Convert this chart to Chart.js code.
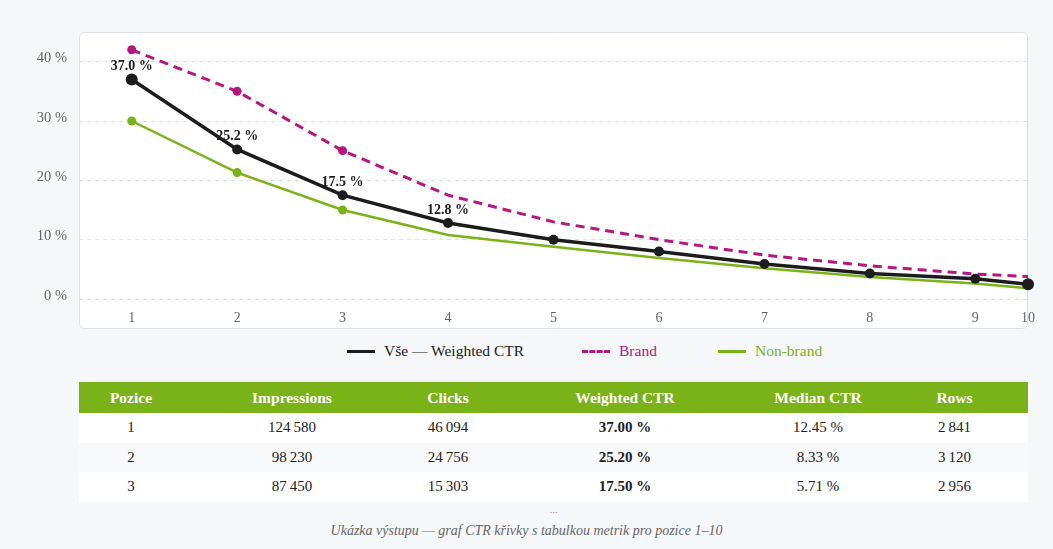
<!DOCTYPE html>
<html lang="cs">
<head>
<meta charset="utf-8">
<title>CTR křivka</title>
<script src="https://cdn.jsdelivr.net/npm/chart.js@4.4.1/dist/chart.umd.min.js"></script>
<style>
  body { margin: 0; background: #f6f7f9; font-family: Georgia, "Liberation Serif", "DejaVu Serif", serif; color: #222; }
  .wrap { position: relative; width: 1053px; height: 549px; overflow: hidden; }
  #chart-box { position: absolute; left: 0; top: 0; width: 1053px; height: 329px; }
  #legend { position: absolute; top: 341px; left: 347px; height: 20px; display: flex; font-size: 15.5px; line-height: 20px; font-family: "Liberation Serif", serif; }
  #legend .item { display: flex; align-items: center; }
  #legend .sample { width: 28px; height: 0; border-top-width: 3px; margin-right: 9px; }
  #metrics { position: absolute; left: 79px; top: 382px; width: 949px; border-collapse: collapse; table-layout: fixed; font-size: 15px; }
  #metrics th { background: #7ab317; color: #fff; font-weight: bold; font-size: 15.5px; height: 31px; padding: 0; text-align: center; }
  #metrics td { height: 29.5px; padding: 0; text-align: center; background: #fff; }
  #metrics tr:nth-child(even) td { background: #f8f9fa; }
  #metrics td.strong { font-weight: bold; }
  .dots { position: absolute; top: 503px; left: 79px; width: 949px; text-align: center; color: #999; font-size: 11px; }
  .caption { position: absolute; top: 523px; left: 0; width: 1053px; text-align: center; color: #666; font-style: italic; font-size: 14px; }
</style>
</head>
<body>
<div class="wrap">
  <div id="chart-box"><canvas id="ctr-chart"></canvas></div>
  <div id="legend"></div>
  <table id="metrics">
    <colgroup>
      <col style="width:104px"><col style="width:218px"><col style="width:94px">
      <col style="width:260px"><col style="width:126px"><col style="width:147px">
    </colgroup>
    <thead>
      <tr><th>Pozice</th><th>Impressions</th><th>Clicks</th><th>Weighted CTR</th><th>Median CTR</th><th>Rows</th></tr>
    </thead>
    <tbody id="metrics-body"></tbody>
  </table>
  <div class="dots">...</div>
  <div class="caption">Ukázka výstupu — graf CTR křivky s tabulkou metrik pro pozice 1–10</div>
</div>
<script>
// chart data
const positions = ["1", "2", "3", "4", "5", "6", "7", "8", "9", "10"];
const weightedCtr = [37.0, 25.2, 17.5, 12.8, 10.0, 8.0, 5.9, 4.3, 3.4, 2.5];
const brandCtr = [42.0, 35.0, 25.0, 17.5, 13.0, 10.0, 7.4, 5.6, 4.2, 3.8];
const nonBrandCtr = [30.0, 21.3, 15.0, 10.8, 8.8, 6.9, 5.2, 3.7, 2.6, 1.8];
const yTicks = [0, 10, 20, 30, 40];

// table data
const tablePositions = [1, 2, 3];
const impressions = [124580, 98230, 87450];
const clicks = [46094, 24756, 15303];
const weightedPct = [37.00, 25.20, 17.50];
const medianPct = [12.45, 8.33, 5.71];
const rowCounts = [2841, 3120, 2956];

const BLACK = "#1c1c1c";
const MAGENTA = "#b8157f";
const GREEN = "#7ab317";
const FONT = "Georgia, 'Liberation Serif', 'DejaVu Serif', serif";

// category scale where the last position sits on the right edge (half step)
class PositionScale extends Chart.CategoryScale {
    static id = "position";
    static defaults = Chart.CategoryScale.defaults;
    getPixelForValue(value) {
        if (typeof value !== "number") value = this.parse(value);
        const n = this.getLabels().length;
        const v = value <= n - 2 ? value + 0.5 : n - 1.5 + (value - (n - 2)) * 0.5;
        return this.left + this.width * v / (n - 1);
    }
}
Chart.register(PositionScale);

// white rounded panel behind the plot
const panelPlugin = {
    id: "panel",
    beforeDraw(chart) {
        const { ctx, chartArea } = chart;
        const bottom = chart.scales.x.bottom;
        ctx.save();
        ctx.beginPath();
        ctx.roundRect(chartArea.left + 0.5, chartArea.top + 0.5, chartArea.right - chartArea.left - 1, bottom - chartArea.top - 1, 5);
        ctx.fillStyle = "#fff";
        ctx.fill();
        ctx.strokeStyle = "#dde1e6";
        ctx.lineWidth = 1;
        ctx.stroke();
        ctx.restore();
    }
};

// value labels above the first four weighted CTR points
const valueLabels = {
    id: "valueLabels",
    afterDatasetsDraw(chart) {
        const { ctx } = chart;
        const meta = chart.getDatasetMeta(0);
        ctx.save();
        ctx.font = "bold 14px " + FONT;
        ctx.fillStyle = BLACK;
        ctx.textAlign = "center";
        ctx.textBaseline = "middle";
        for (let i = 0; i < 4; i++) {
            const pt = meta.data[i];
            ctx.fillText(weightedCtr[i].toFixed(1) + " %", pt.x, pt.y - 13);
        }
        ctx.restore();
    }
};

const ctx = document.getElementById("ctr-chart").getContext("2d");
const chart = new Chart(ctx, {
    type: "line",
    data: {
        labels: positions,
        datasets: [
            {
                label: "Vše — Weighted CTR",
                data: weightedCtr,
                borderColor: BLACK,
                backgroundColor: BLACK,
                borderWidth: 3.5,
                pointRadius: [6, 5, 5, 5, 5, 5, 5, 5, 5, 6],
                pointBackgroundColor: BLACK,
                pointBorderWidth: 0,
                tension: 0,
                clip: false
            },
            {
                label: "Brand",
                data: brandCtr,
                borderColor: MAGENTA,
                backgroundColor: MAGENTA,
                borderWidth: 3,
                borderDash: [9, 6],
                pointRadius: [4.5, 4.5, 4.5, 0, 0, 0, 0, 0, 0, 0],
                pointBackgroundColor: MAGENTA,
                pointBorderWidth: 0,
                tension: 0,
                clip: false
            },
            {
                label: "Non-brand",
                data: nonBrandCtr,
                borderColor: GREEN,
                backgroundColor: GREEN,
                borderWidth: 2.5,
                pointRadius: [4.5, 4.5, 4.5, 0, 0, 0, 0, 0, 0, 0],
                pointBackgroundColor: GREEN,
                pointBorderWidth: 0,
                tension: 0,
                clip: false
            }
        ]
    },
    options: {
        responsive: false,
        maintainAspectRatio: false,
        animation: false,
        layout: { padding: { top: 32, right: 25, left: 0, bottom: 0 } },
        plugins: {
            legend: { display: false },
            tooltip: { enabled: false }
        },
        scales: {
            x: {
                type: "position",
                grid: { display: false },
                border: { display: false },
                ticks: { color: "#666", font: { family: FONT, size: 14 }, padding: 3, maxRotation: 0, autoSkip: false },
                afterFit: s => { s.height = 30; }
            },
            y: {
                min: 0,
                max: 45,
                afterBuildTicks: s => { s.ticks = yTicks.map(v => ({ value: v })); },
                afterFit: s => { s.width = 79; },
                grid: { color: "#dcdfe3", lineWidth: 1, drawTicks: false },
                border: { display: false, dash: [4, 4] },
                ticks: {
                    color: "#666",
                    font: { family: FONT, size: 14.5 },
                    padding: 12,
                    labelOffset: -3,
                    callback: v => v + " %"
                }
            }
        }
    },
    plugins: [panelPlugin, valueLabels]
});
chart.canvas.style.width = "1053px";
chart.canvas.style.height = "329px";
chart.resize(1053, 329);

// legend from the chart's own datasets
function buildLegend() {
    const legend = document.getElementById("legend");
    const widths = [235, 136, 120];
    legend.innerHTML = "";
    chart.data.datasets.forEach((ds, i) => {
        const item = document.createElement("div");
        item.className = "item";
        item.style.width = widths[i] + "px";
        const sample = document.createElement("span");
        sample.className = "sample";
        sample.style.borderTopColor = ds.borderColor;
        sample.style.borderTopStyle = ds.borderDash ? "dashed" : "solid";
        const text = document.createElement("span");
        text.textContent = ds.label;
        text.style.color = i === 0 ? "#222" : ds.borderColor;
        item.appendChild(sample);
        item.appendChild(text);
        legend.appendChild(item);
    });
}
buildLegend();

// metrics table
function fmtInt(n) {
    return String(n).replace(/\B(?=(\d{3})+(?!\d))/g, "\u202F");
}
const body = document.getElementById("metrics-body");
tablePositions.forEach((p, i) => {
    const row = document.createElement("tr");
    row.innerHTML = `
        <td>${p}</td>
        <td>${fmtInt(impressions[i])}</td>
        <td>${fmtInt(clicks[i])}</td>
        <td class="strong">${weightedPct[i].toFixed(2)} %</td>
        <td>${medianPct[i].toFixed(2)} %</td>
        <td>${fmtInt(rowCounts[i])}</td>
    `;
    body.appendChild(row);
});
</script>
</body>
</html>
